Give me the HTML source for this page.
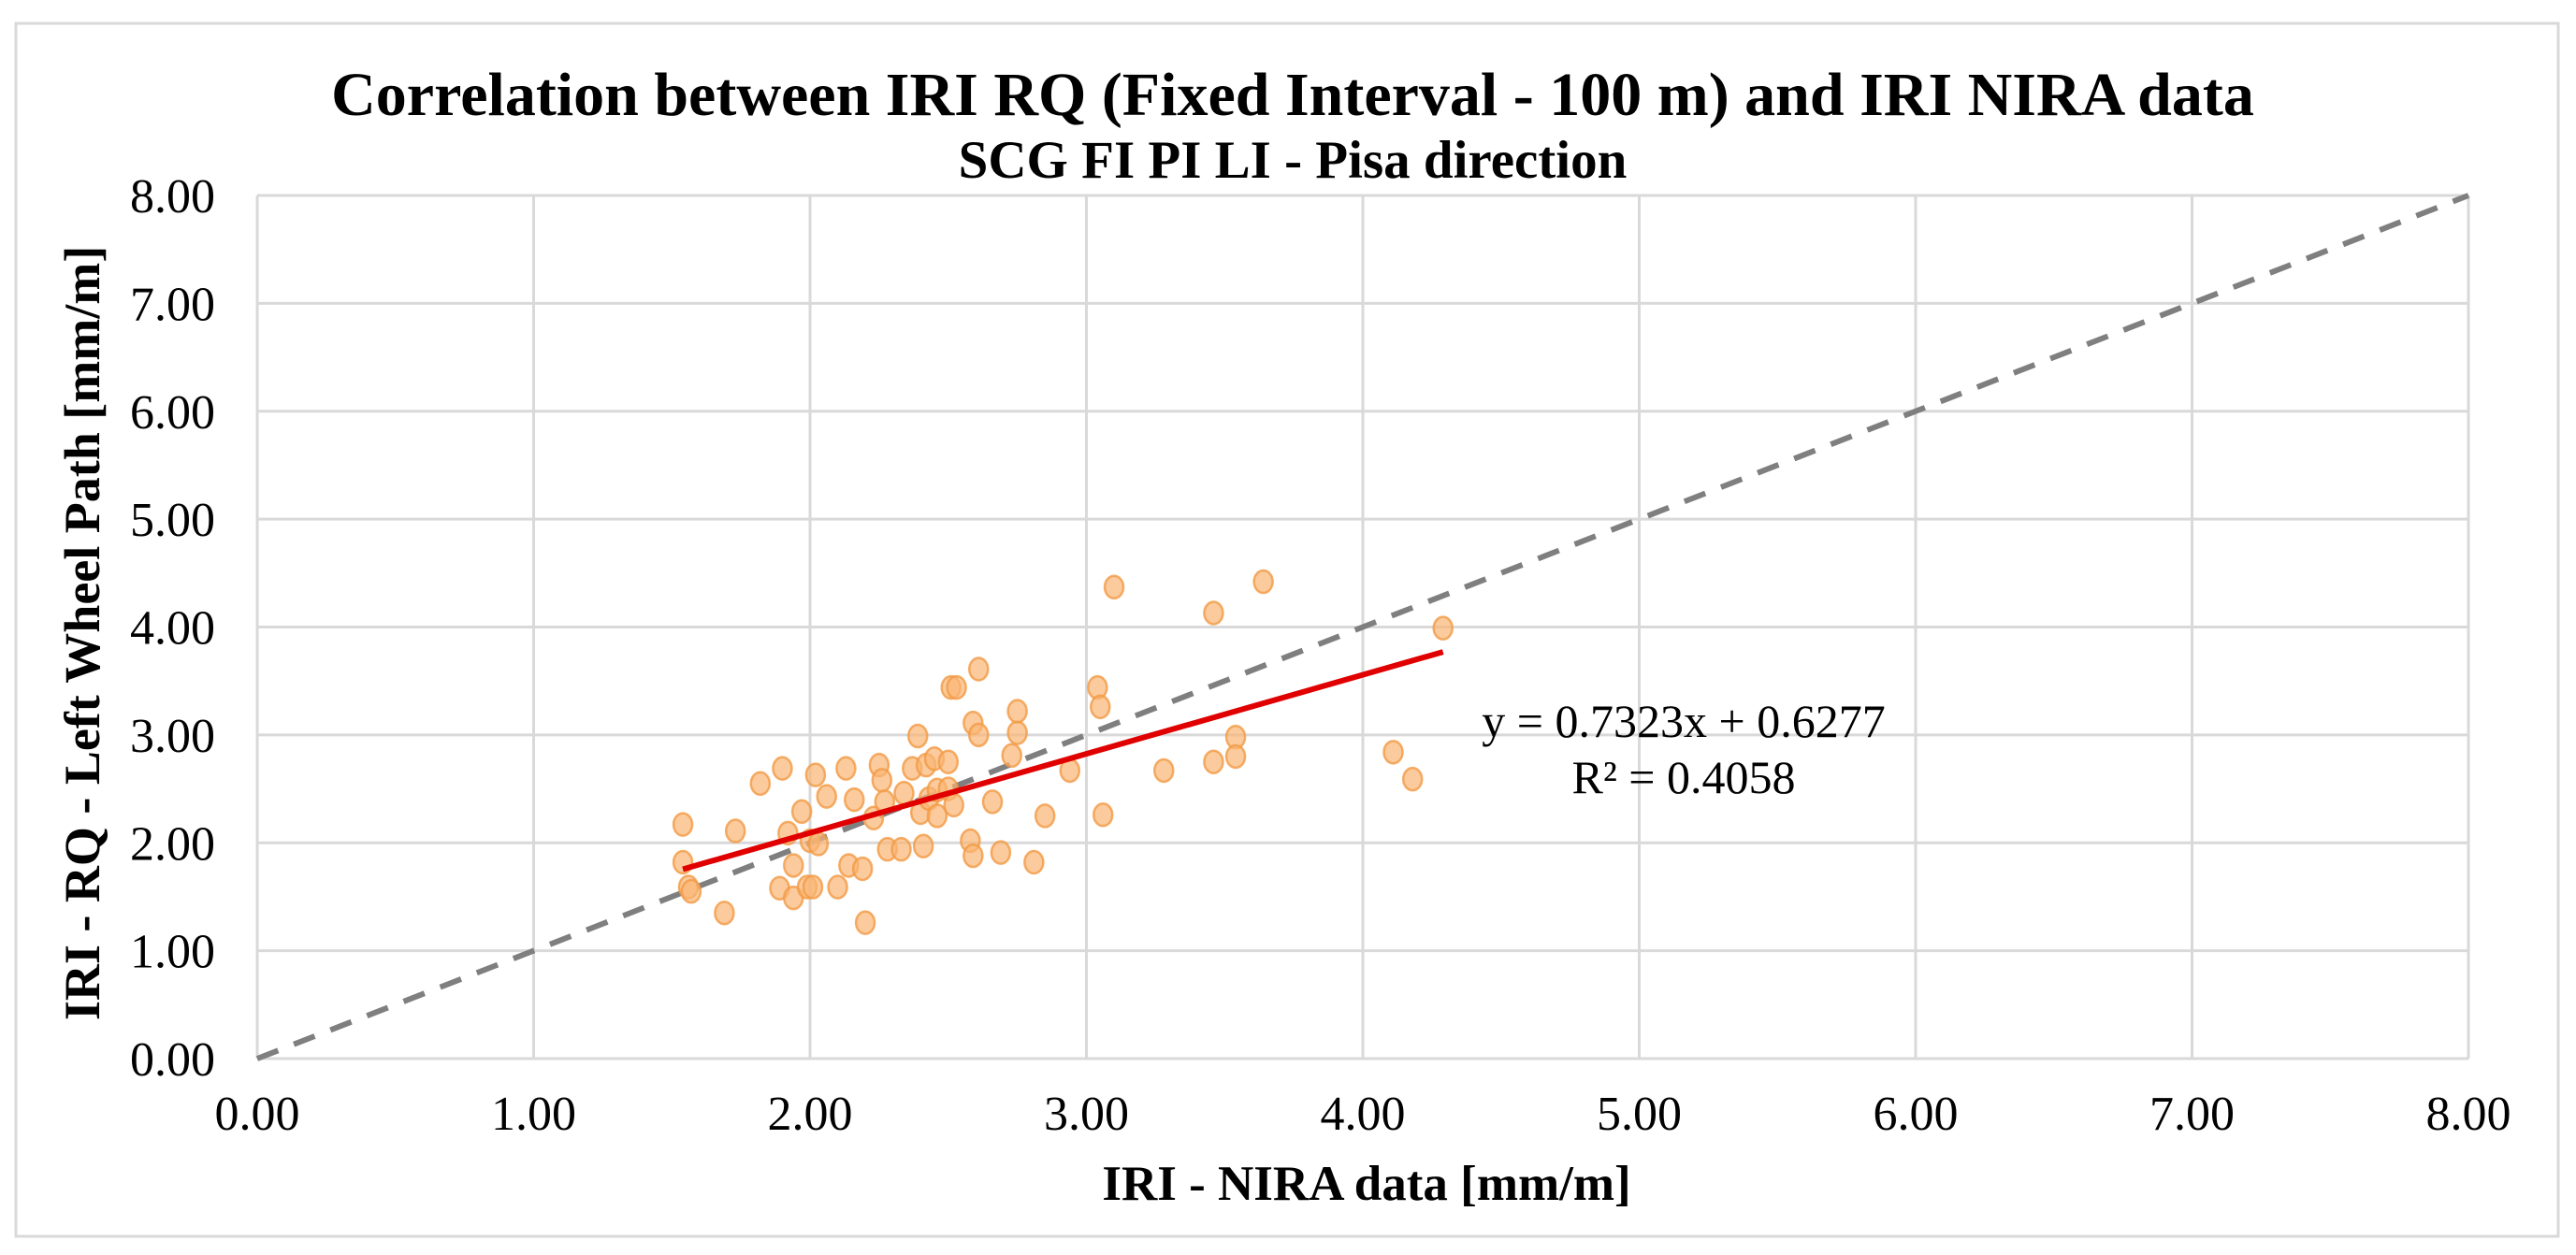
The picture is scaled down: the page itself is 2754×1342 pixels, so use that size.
<!DOCTYPE html>
<html><head><meta charset="utf-8"><style>
html,body{margin:0;padding:0;background:#fff;}
svg{display:block;font-family:"Liberation Serif",serif;}
</style></head><body>
<svg id="chart" width="2754" height="1342" viewBox="0 0 2754 1342">
<rect x="17" y="25" width="2718" height="1297" fill="#fff" stroke="#d9d9d9" stroke-width="3"/>
<text x="1382" y="123" text-anchor="middle" font-size="66" font-weight="bold">Correlation between IRI RQ (Fixed Interval - 100 m) and IRI NIRA data</text>
<text x="1382" y="190" text-anchor="middle" font-size="57" font-weight="bold">SCG FI PI LI - Pisa direction</text>
<g id="grid"></g>
<g id="axes"></g>
<g id="marks"></g>
<text x="1800" y="788" text-anchor="middle" font-size="50">y = 0.7323x + 0.6277</text>
<text x="1800" y="848" text-anchor="middle" font-size="50">R² = 0.4058</text>
<text x="1461" y="1283" text-anchor="middle" font-size="53" font-weight="bold">IRI - NIRA data [mm/m]</text>
<text transform="translate(106,677) rotate(-90)" text-anchor="middle" font-size="54" font-weight="bold">IRI - RQ - Left Wheel Path [mm/m]</text>
</svg>
<script>
const xTicks = [0,1,2,3,4,5,6,7,8];
const yTicks = [0,1,2,3,4,5,6,7,8];
const tickLabels = ["0.00","1.00","2.00","3.00","4.00","5.00","6.00","7.00","8.00"];
const niraX = [1.54,1.54,1.56,1.57,1.69,1.73,1.82,1.90,1.92,1.89,1.94,1.94,1.97,1.99,2.01,2.02,2.00,2.03,2.06,2.10,2.13,2.14,2.16,2.19,2.20,2.23,2.25,2.26,2.27,2.28,2.33,2.34,2.37,2.39,2.40,2.41,2.42,2.43,2.45,2.46,2.46,2.50,2.50,2.51,2.53,2.52,2.58,2.59,2.61,2.61,2.59,2.66,2.69,2.73,2.75,2.75,2.81,2.85,2.94,3.04,3.05,3.06,3.10,3.28,3.46,3.46,3.54,3.54,3.64,4.11,4.18,4.29];
const rqY = [2.17,1.82,1.59,1.55,1.35,2.11,2.55,2.69,2.09,1.58,1.79,1.49,2.29,1.59,1.59,2.63,2.02,1.99,2.43,1.59,2.69,1.79,2.40,1.76,1.26,2.23,2.72,2.58,2.38,1.94,1.94,2.46,2.69,2.99,2.28,1.97,2.72,2.41,2.78,2.49,2.25,2.75,2.50,3.44,3.44,2.35,2.02,3.11,3.00,3.61,1.88,2.38,1.91,2.81,3.02,3.22,1.82,2.25,2.67,3.44,3.26,2.26,4.37,2.67,4.13,2.75,2.98,2.80,4.42,2.84,2.59,3.99];
const slope = [0.7323];
const intercept = [0.6277];
const X0=275, X1=2639, Y0=1132, Y1=209;
const sx = v => X0 + (v/8)*(X1-X0);
const sy = v => Y0 - (v/8)*(Y0-Y1);
const NS="http://www.w3.org/2000/svg";
function mk(tag, parent, attrs){const e=document.createElementNS(NS,tag);for(const k in attrs)e.setAttribute(k,attrs[k]);parent.appendChild(e);return e;}
const grid=document.getElementById('grid'), axes=document.getElementById('axes'), marks=document.getElementById('marks');
xTicks.forEach((t,i)=>{
  const l=mk('line',grid,{x1:sx(t),x2:sx(t),y1:Y1,y2:Y0,stroke:'#d9d9d9','stroke-width':3});
  
  
  const tx=mk('text',axes,{x:sx(t),y:Y0+76,'text-anchor':'middle','font-size':52});
  tx.textContent=tickLabels[i];
  
  
});
yTicks.forEach((t,i)=>{
  const l=mk('line',grid,{x1:X0,x2:X1,y1:sy(t),y2:sy(t),stroke:'#d9d9d9','stroke-width':3});
  
  
  const tx=mk('text',axes,{x:230,y:sy(t)+18,'text-anchor':'end','font-size':52});
  tx.textContent=tickLabels[i];
  
  
});
const eq=mk('line',marks,{x1:sx(0),y1:sy(0),x2:sx(8),y2:sy(8),stroke:'#7f7f7f','stroke-width':6,'stroke-dasharray':'24,18'});


niraX.forEach((x,i)=>{
  const c=mk('ellipse',marks,{cx:sx(x),cy:sy(rqY[i]),rx:10,ry:12,fill:'#f9b574','fill-opacity':0.7,stroke:'#f29a45','stroke-width':2.5,'stroke-opacity':0.8});
  
  
});
const xmin=Math.min(...niraX), xmax=Math.max(...niraX);
const tl=mk('line',marks,{x1:sx(xmin),y1:sy(slope[0]*xmin+intercept[0]),x2:sx(xmax),y2:sy(slope[0]*xmax+intercept[0]),stroke:'#e00000','stroke-width':6});


</script>
</body></html>
